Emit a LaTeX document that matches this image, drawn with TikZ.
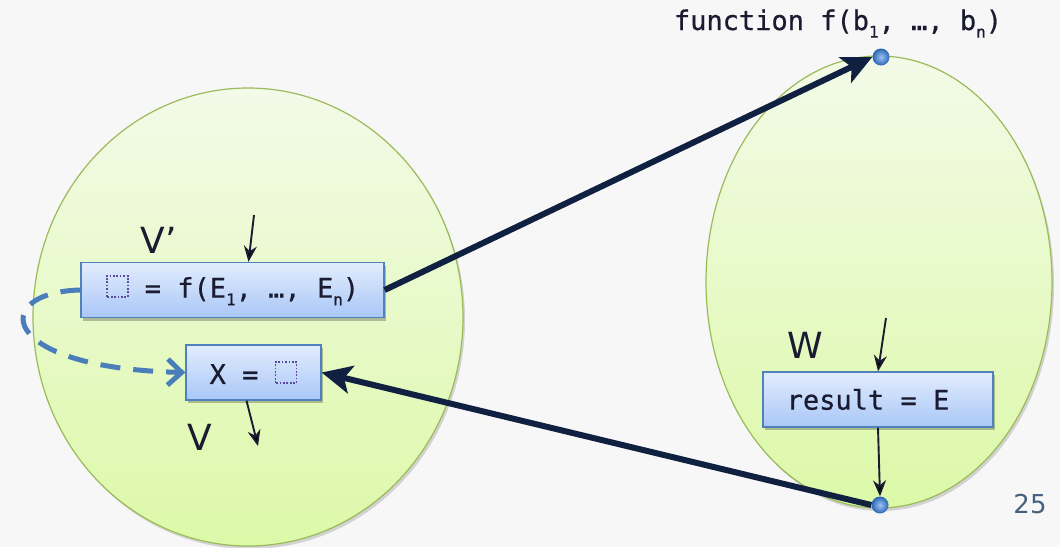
\documentclass[tikz,border=0pt]{standalone}
\usepackage{fontspec}
\setmainfont{DejaVu Sans}
\newfontfamily\codefont[FakeBold=0.6]{DejaVu Sans Mono}
\usetikzlibrary{arrows.meta,shapes.geometric,shadows}

\definecolor{bgcol}{HTML}{F7F7F7}
\definecolor{scopetop}{HTML}{F3FAE8}
\definecolor{scopebot}{HTML}{DCF9A8}
\definecolor{scopeedge}{HTML}{9BBB59}
\definecolor{boxtop}{HTML}{E2ECFD}
\definecolor{boxbot}{HTML}{A9C7F7}
\definecolor{boxedge}{HTML}{4F81BD}
\definecolor{ink}{HTML}{1A1A30}
\definecolor{navy}{HTML}{102040}
\definecolor{dashcol}{HTML}{4A7EBB}
\definecolor{holecol}{HTML}{5A4A9A}
\definecolor{pagenum}{HTML}{46607E}
\definecolor{ballin}{HTML}{9CC4F4}
\definecolor{ballout}{HTML}{2A66B4}

\newcommand{\hole}{\tikz[baseline=-1pt]\draw[holecol, line width=1.7pt, dash pattern=on 1.7pt off 1.7pt] (0pt,0pt) rectangle (21pt,21pt);}
\newcommand{\sub}[1]{\raisebox{-0.28em}{\fontsize{16}{16}\selectfont #1}}

\tikzset{
  scopeoval/.style={ellipse, draw=scopeedge, line width=1.2pt,
    top color=scopetop, bottom color=scopebot,
    drop shadow={shadow xshift=2pt, shadow yshift=-3pt, opacity=0.15, fill=black}},
  stmt/.style={rectangle, draw=boxedge, line width=1.3pt,
    top color=boxtop, bottom color=boxbot, minimum height=55pt,
    inner sep=0pt, text=ink, font=\codefont\fontsize{27}{32}\selectfont,
    drop shadow={shadow xshift=2pt, shadow yshift=-3pt, opacity=0.25, fill=black}},
  lbl/.style={text=ink, font=\fontsize{36}{40}\selectfont, inner sep=0pt},
  ball/.style={circle, inner sep=0pt, minimum size=17pt,
    inner color=ballin, outer color=ballout},
  flow/.style={draw=ink, line width=1.9pt, -{Stealth[length=16pt,width=13pt]}},
  call/.style={draw=navy, line width=6pt, -{Stealth[length=30pt,width=28pt,inset=7pt]}},
  back/.style={draw=dashcol, line width=5pt, dash pattern=on 20pt off 13pt,
    -{Straight Barb[length=14pt,width=26pt,line width=5pt]}},
}

\begin{document}
\begin{tikzpicture}[x=1pt,y=-1pt]
  \useasboundingbox[fill=bgcol] (0,0) rectangle (1060,547);

  % caller and callee scopes
  \node[scopeoval, minimum width=430pt, minimum height=458pt] (caller) at (248,317) {};
  \node[scopeoval, minimum width=346pt, minimum height=452pt] (callee) at (879,282) {};

  % statements
  \node[stmt, minimum width=303pt] (call) at (232.5,290) {\hole\ = f(E\sub{1}, …, E\sub{n})};
  \node[stmt, minimum width=135pt] (assign) at (253.5,372.5) {X = \hole};
  \node[stmt, minimum width=230pt] (ret) at (878,399.5) {\hspace*{-20pt}result = E};

  % entry and exit points of the function
  \node[ball] (entry) at (881,57) {};
  \node[ball] (exit) at (880,505) {};

  \node[text=ink, font=\codefont\fontsize{27}{32}\selectfont, anchor=base] (sig) at (838,30)
    {function f(b\sub{1}, …, b\sub{n})};
  \node[text=pagenum, font=\fontsize{26}{30}\selectfont] (page) at (1030,504) {25};

  % environment labels
  \node[lbl] (vp) at (159,240) {V’};
  \node[lbl] (v) at (200,437) {V};
  \node[lbl] (w) at (805,345) {W};

  % control flow
  \coordinate (inC) at (254,215);
  \coordinate (outA) at (258,446);
  \coordinate (inR) at (886,318);
  \draw[flow] (inC) -- ([xshift=16pt]call.north);
  \draw[flow] ([xshift=-7pt]assign.south) -- (outA);
  \draw[flow] (inR) -- (ret.north);
  \draw[flow] (ret.south) -- (exit.north);

  % call and return
  \draw[call] (call.east) -- (entry.west);
  \draw[call] (exit.west) -- (assign.east);

  % result value flowing into the hole
  \draw[back] (call.west) .. controls (-10,292) and (-5,368) .. (assign.west);
\end{tikzpicture}
\end{document}
